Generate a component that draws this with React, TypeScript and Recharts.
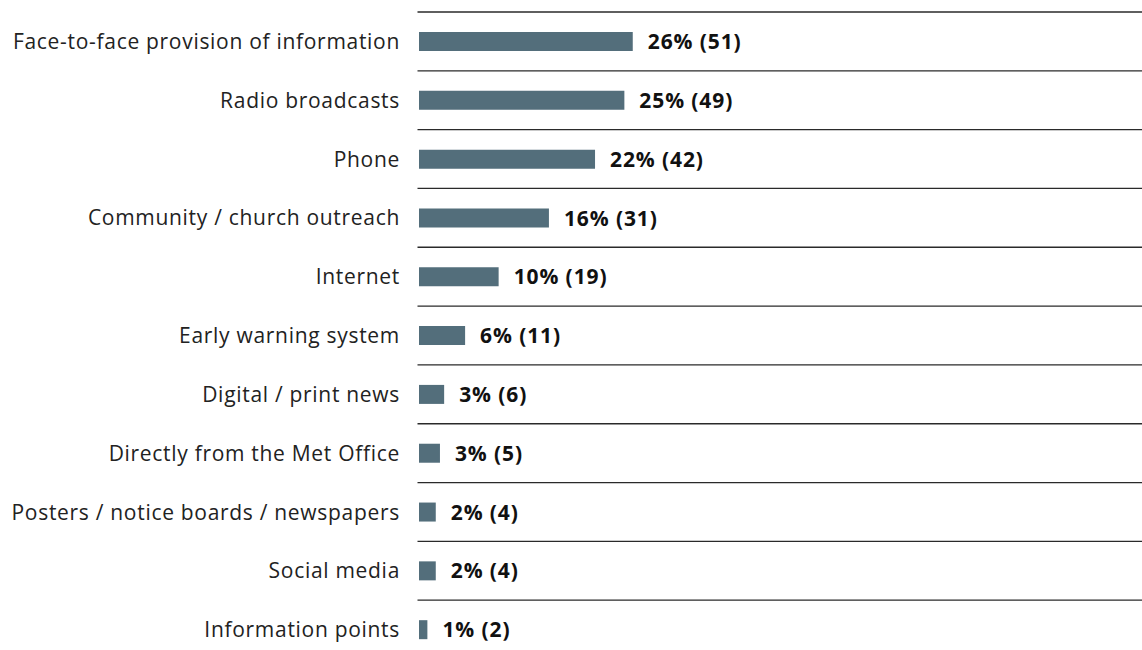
import React from "react";
import { BarChart, Bar, XAxis, YAxis, LabelList } from "recharts";

const categories = [
  "Face-to-face provision of information",
  "Radio broadcasts",
  "Phone",
  "Community / church outreach",
  "Internet",
  "Early warning system",
  "Digital / print news",
  "Directly from the Met Office",
  "Posters / notice boards / newspapers",
  "Social media",
  "Information points",
];
const counts = [51, 49, 42, 31, 19, 11, 6, 5, 4, 4, 2];
const percents = [26, 25, 22, 16, 10, 6, 3, 3, 2, 2, 1];

const data = categories.map((name, i) => ({ name, count: counts[i], pct: percents[i] }));

const FONT = "'Open Sans', sans-serif";
const AXIS_W = 419;

// category label plus the separator at the top edge of its band
function CategoryTick(props: any) {
  const { x, y, payload } = props;
  const half = payload?.offset ?? 0;
  const top = y - half;
  return (
    <g>
      <line x1={AXIS_W - 1.5} x2={1150} y1={top} y2={top} stroke="#2a2a2a" strokeWidth={1.3} />
      <text
        x={x}
        y={y}
        dy="0.36em"
        textAnchor="end"
        fontSize={21}
        letterSpacing={0.7}
        fill="#222"
        fontFamily={FONT}
      >
        {payload.value}
      </text>
    </g>
  );
}

export default function App() {
  return (
    <div style={{ position: "fixed", left: 0, top: 0, background: "#fff" }}>
      <BarChart
        width={1142}
        height={670}
        data={data}
        layout="vertical"
        margin={{ top: 12, right: 0, bottom: 11, left: 0 }}
        barCategoryGap={0}
      >
        <XAxis type="number" hide domain={[0, 172.5]} />
        <YAxis
          type="category"
          dataKey="name"
          width={AXIS_W}
          axisLine={false}
          tickLine={false}
          tickSize={0}
          tickMargin={19}
          interval={0}
          tick={<CategoryTick />}
        />
        <Bar dataKey="count" fill="#536e7b" barSize={19} isAnimationActive={false}>
          <LabelList
            dataKey="count"
            position="right"
            content={(p: any) => {
              const { x, y, width, height, index } = p;
              return (
                <text
                  x={x + width + 15}
                  y={y + height / 2}
                  dy="0.36em"
                  fontSize={21}
                  fontWeight={700}
                  letterSpacing={0.9}
                  fill="#111"
                  fontFamily={FONT}
                >
                  {`${percents[index]}% (${counts[index]})`}
                </text>
              );
            }}
          />
        </Bar>
      </BarChart>
    </div>
  );
}
